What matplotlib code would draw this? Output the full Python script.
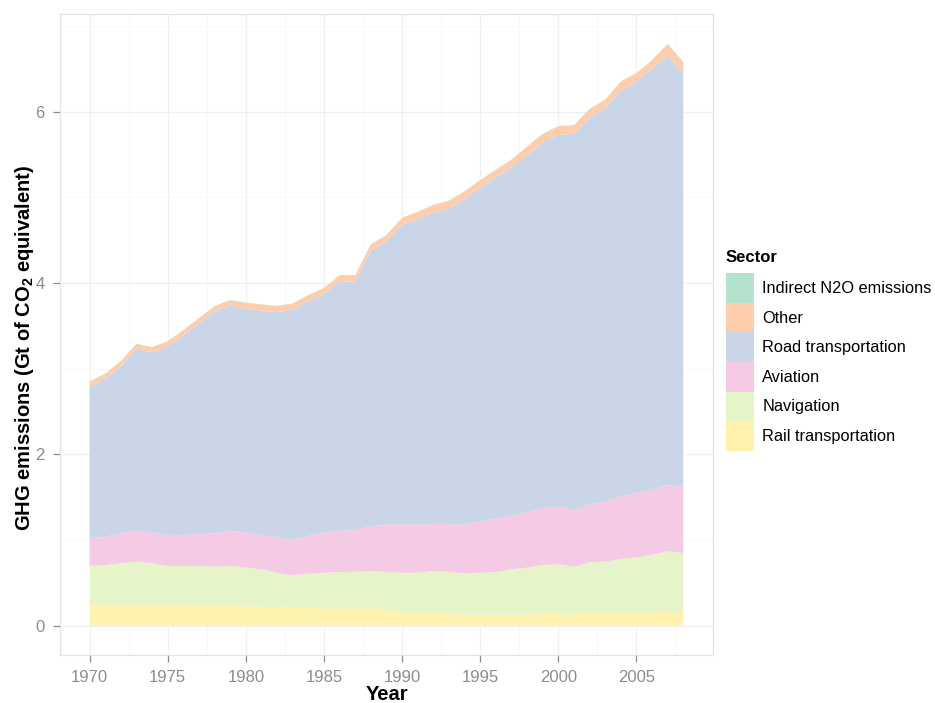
import numpy as np
import matplotlib
matplotlib.use("Agg")
import matplotlib.pyplot as plt
from matplotlib.patches import Patch

plt.rcParams['font.family'] = ['Liberation Sans', 'DejaVu Sans']
plt.rcParams['mathtext.fontset'] = 'custom'
plt.rcParams['mathtext.rm'] = 'Liberation Sans'
plt.rcParams['mathtext.bf'] = 'Liberation Sans:bold'

#%% data (Gt CO2 eq)
years = list(range(1970, 2009))

rail = [0.25, 0.25, 0.25, 0.25, 0.25, 0.25, 0.25, 0.24, 0.24, 0.23,
        0.23, 0.22, 0.22, 0.21, 0.21, 0.20, 0.20, 0.20, 0.20, 0.18,
        0.16, 0.14, 0.14, 0.14, 0.13, 0.13, 0.13, 0.13, 0.13, 0.14,
        0.14, 0.12, 0.16, 0.15, 0.15, 0.15, 0.16, 0.16, 0.16]

navigation = [0.45, 0.46, 0.48, 0.50, 0.48, 0.45, 0.45, 0.46, 0.45, 0.47,
              0.45, 0.44, 0.40, 0.38, 0.40, 0.42, 0.43, 0.43, 0.44, 0.45,
              0.46, 0.48, 0.50, 0.49, 0.48, 0.49, 0.50, 0.53, 0.55, 0.57,
              0.58, 0.57, 0.58, 0.60, 0.63, 0.65, 0.67, 0.71, 0.69]

aviation = [0.32, 0.33, 0.35, 0.36, 0.36, 0.36, 0.36, 0.37, 0.39, 0.41,
            0.41, 0.40, 0.41, 0.41, 0.44, 0.47, 0.48, 0.49, 0.52, 0.55,
            0.57, 0.56, 0.55, 0.56, 0.57, 0.60, 0.62, 0.63, 0.64, 0.66,
            0.67, 0.66, 0.68, 0.70, 0.73, 0.75, 0.76, 0.77, 0.78]

road = [1.77, 1.84, 1.95, 2.12, 2.10, 2.20, 2.33, 2.46, 2.59, 2.63,
        2.61, 2.62, 2.63, 2.69, 2.74, 2.78, 2.91, 2.90, 3.22, 3.31,
        3.49, 3.56, 3.63, 3.68, 3.80, 3.89, 3.98, 4.06, 4.17, 4.27,
        4.34, 4.39, 4.51, 4.59, 4.74, 4.80, 4.91, 5.02, 4.81]

other = [0.06, 0.06, 0.06, 0.06, 0.06, 0.06, 0.06, 0.06, 0.06, 0.06,
         0.07, 0.07, 0.07, 0.07, 0.07, 0.07, 0.07, 0.07, 0.07, 0.07,
         0.08, 0.09, 0.09, 0.09, 0.09, 0.09, 0.09, 0.09, 0.10, 0.10,
         0.10, 0.10, 0.10, 0.10, 0.10, 0.10, 0.10, 0.13, 0.14]

indirect_n2o = [0.003] * 39

sectors = ["Rail transportation", "Navigation", "Aviation",
           "Road transportation", "Other", "Indirect N2O emissions"]
colors = ["#FFF2AE", "#E6F5C9", "#F4CAE4", "#CBD5E8", "#FDCDAC", "#B3E2CD"]

#%% plot
fig = plt.figure(figsize=(9.35, 7.03), dpi=100)
ax = fig.add_axes([60 / 935, 1 - 655 / 703, (713 - 60) / 935, (655 - 14) / 703])

ax.stackplot(years, rail, navigation, aviation, road, other, indirect_n2o,
             colors=colors, linewidth=0, zorder=2)

ax.set_xlim(1968.1, 2009.9)
ax.set_ylim(-0.34, 7.14)
ax.set_xticks(range(1970, 2006, 5))
ax.set_xticks(np.arange(1972.5, 2009, 5), minor=True)
ax.set_yticks([0, 2, 4, 6])
ax.set_yticks([1, 3, 5, 7], minor=True)

ax.grid(which='major', color='#F0F0F0', linewidth=0.9, zorder=0)
ax.grid(which='minor', color='#F7F7F7', linewidth=0.6, zorder=0)
ax.set_axisbelow(True)
for s in ax.spines.values():
    s.set_color('#E3E3E3')
    s.set_linewidth(0.9)

ax.tick_params(which='major', length=5, width=0.9, color='#8C8C8C',
               labelcolor='#8C8C8C', labelsize=12)
ax.tick_params(axis='x', which='major', pad=6)
ax.tick_params(axis='y', which='major', pad=6)
ax.tick_params(which='minor', length=0)

ax.set_xlabel("Year", fontsize=14.5, fontweight='bold', labelpad=0)
ax.set_ylabel(r"GHG emissions (Gt of CO$_\mathbf{2}$ equivalent)",
              fontsize=14.5, fontweight='bold', va='center')
ax.yaxis.set_label_coords(-36 / 653, (655 - 348) / 641)

handles = [Patch(facecolor=c, edgecolor='none') for c in colors]
leg = fig.legend(handles[::-1], sectors[::-1], title="Sector",
                 loc='upper left', bbox_to_anchor=(726 / 935, 1 - 250 / 703),
                 frameon=False, fontsize=11.8, handlelength=1.72,
                 handleheight=2.4, labelspacing=0, handletextpad=0.5,
                 borderpad=0, borderaxespad=0, alignment='left',
                 title_fontproperties={'weight': 'bold', 'size': 12})
leg._legend_box.sep = 6

fig.savefig("out.png", dpi=100)
